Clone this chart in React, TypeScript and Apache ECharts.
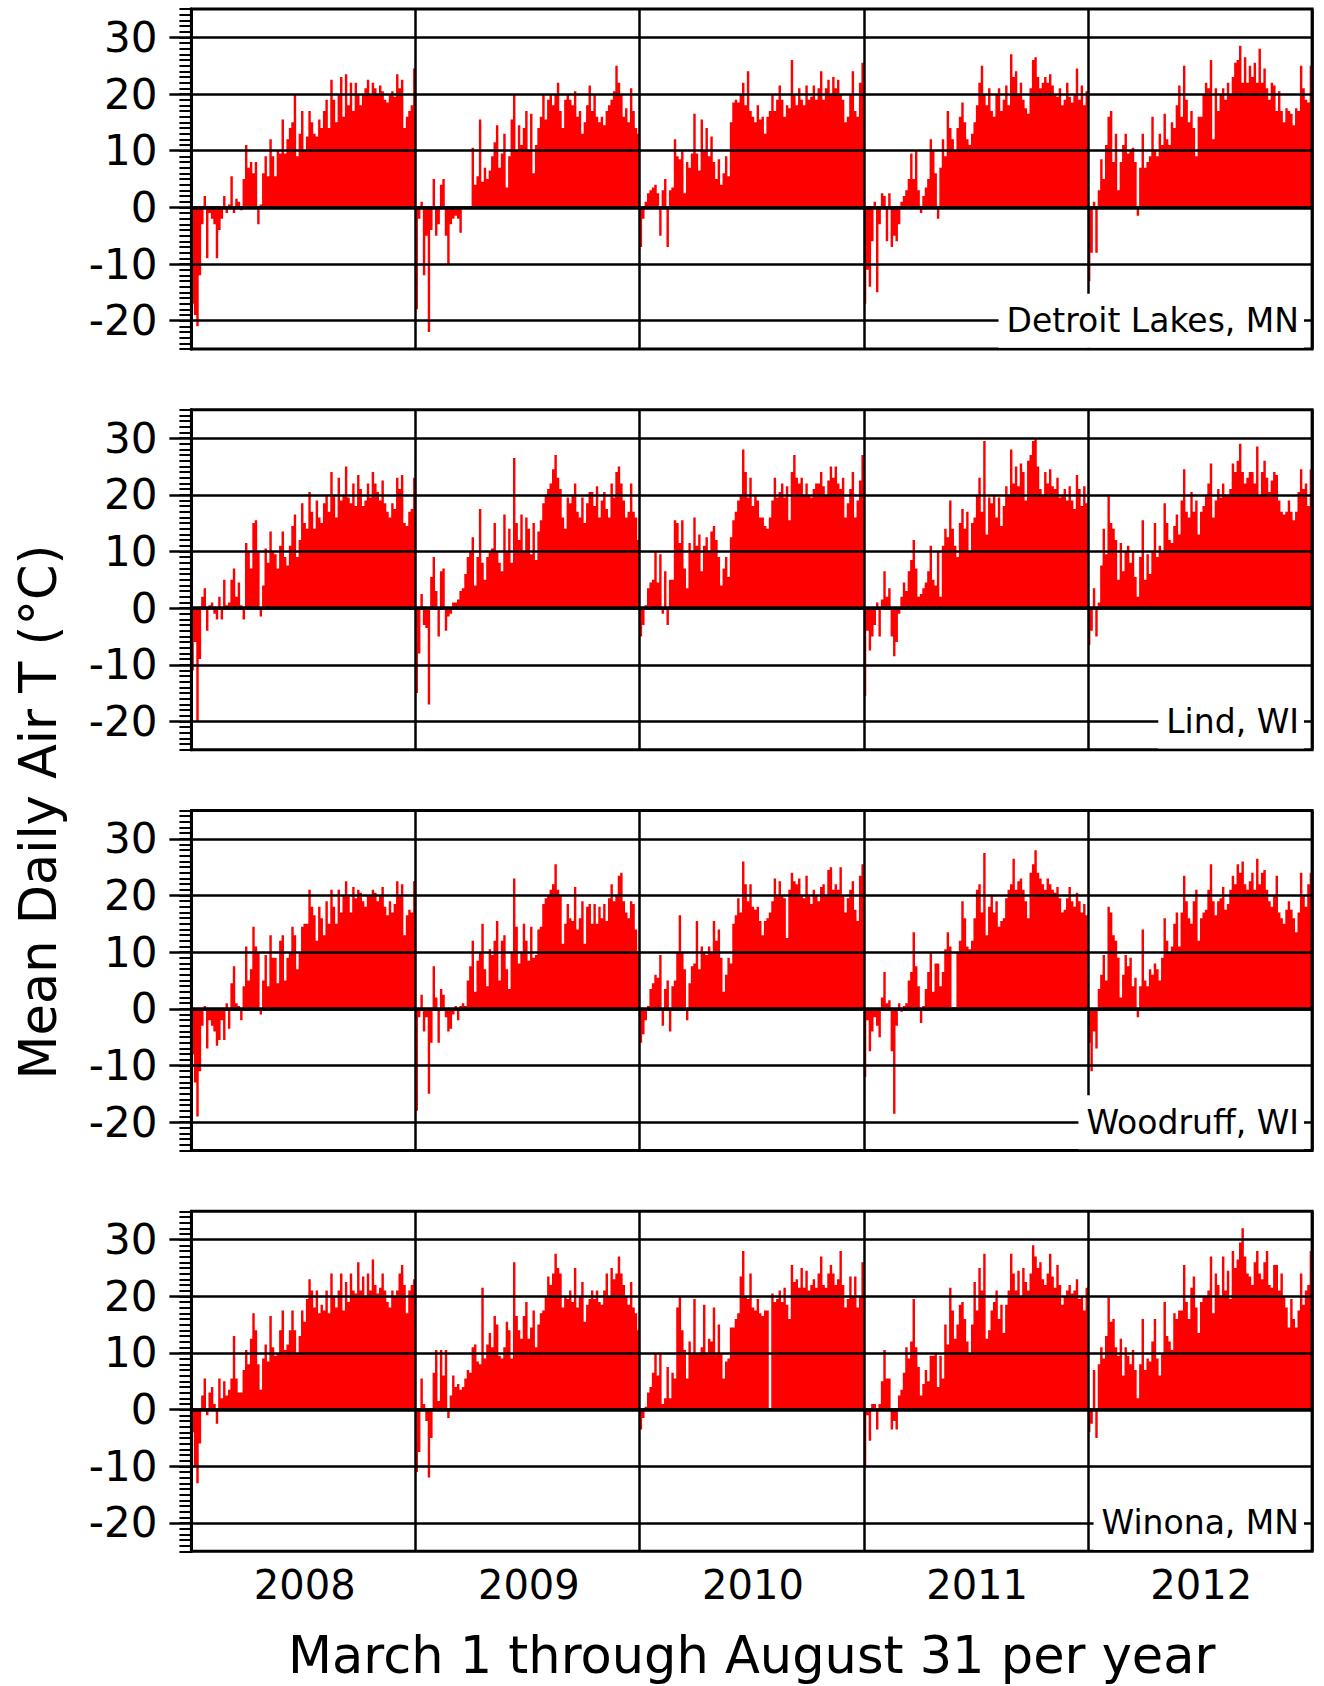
import React, { useEffect, useRef } from "react";
import * as echarts from "echarts";

// ---------------- DATA ----------------
const years = ["2008", "2009", "2010", "2011", "2012"];
const stationNames = ["Detroit Lakes, MN", "Lind, WI", "Woodruff, WI", "Winona, MN"];
const yTickLabels = [-20, -10, 0, 10, 20, 30];
const xTitle = "March 1 through August 31 per year";
const yTitle = "Mean Daily Air T (°C)";

// Two-day mean daily air temperature (°C), March 1 – August 31, 92 values per year
const detroit2008 = [-17,-19,-21,-12,-3,2,-9,-1,-2,-3,-9,-4,-2,2,-1,0.5,5.5,-1,1.5,1,-0.5,5,11,7,8,6,8,-3,0.5,6,9,5.5,12,9,5.5,10,9.5,15.5,9.5,12,14,15,20,9,13,17,10,12.5,17,15,13,12.5,15.5,14,17,19,14,22.5,19,15,20,23,16,23.5,18,22,17,22,20,18,20,21,22.5,20,22,21,20,21.5,20.5,19,18.5,20,20.5,19.5,23.5,21,22.5,14,16,17,18,24.5];
const detroit2009 = [-18,-2,1,-12,-5,-22,-4,5,-5,-3,4,5,-5,-10,-3,-2,-1.5,-2,-4.5,0,0,0,0,10.5,4,5.5,15.5,4.5,7,5,6.5,9,11.5,14.5,7,9.5,13,3.5,9,15.5,20,10,14.5,11,14,17,10,16.5,6,11,14,16,20,15.5,19,20,18,20,22,17,14,19,20,19,18,20.5,16,17,13,15,18,21.5,17,20,16,15,16,14.5,17,18,19,20.5,25,22,20,16,17.5,15,21,17,14,13];
const detroit2010 = [-7,-2,1,2.5,3,3.5,4,2.5,-5,3,5,-7,3,3.5,12,9,8.5,10,2.5,8,7,9.5,16.5,9.5,6.5,15.5,10,14,9,12.5,8,5,8.5,4,6,9,5.5,15,18.5,19,18.5,20,22,18,24,17,16,15,18,15.5,16,13,16,17,20,17,19,21.5,19,16,18,17.5,26,20,18,21,19,18,21.5,19,19.5,21.5,19,21,24,19,21,22.5,20,23,21,22.5,20,19,15,16,20,24,17,16,22,25.5];
const detroit2011 = [-17,-11,-14,-6,1,-15,-3,2.5,2,-6,2.5,-7,-5,-6,-3,1,2,3,5,9.5,5,10,3,-1,2,3.5,5,12,10,6,-2,7,12,9,17,14,12,10,14,16,18.5,15,12,11,13,15,18,22,25,20,18,21,17,16,20,21,17,19,21.5,18,27,23,24,20,22,19,17.5,16.5,21,26,26.5,23,21,22,23,22,23.5,21.5,20,19.5,21,18,19,22,19.5,18.5,20,24.5,19,21.5,18,20.5];
const detroit2012 = [-13,-8,1,-8,3,8.5,5,11,16,17,8,13,3,8,11,13,9.5,10,10.5,8,-1.5,7,13,7,8,9,16,10,9,13,11,16.5,12,11,15,14,18,21.5,16,25,19,15,17,14,9,16,16,20,22,21,26,12,21,17,20,21,19,22,20,23,25.5,26,28.5,22,26.5,22,25,23,25.5,22,28,22,24.5,21,19,22,21.5,17,20.5,17,15,17.5,17,16.5,14.5,17.5,17,25,21,19,18.5,25];

const lind2008 = [-11,-6,-20,-9,2,3.5,-4,0.5,1,-1,-2,2,-2,5,0.5,1,5,7,2,4.5,0.5,-2,11.5,10,7,15,15.5,10,-1.5,4,10.5,8,13.5,10,9.5,7,11,13.5,9,7.5,11,14.5,16.5,9,12,18.5,15,14,20.5,17,14,19,16,15,18.5,20,17,24,20,16,23,19,20,25,19.5,18.5,22,18,23.5,21,18,19,22,19.5,24,22,20.5,19,22.5,18.5,17,16,18.5,17.5,23,21,23.5,15,14.5,17,17.5,23];
const lind2009 = [-15,-8,2.5,-3,-3.5,-17,5.5,9,3,-5,6.5,7,-4,-1.5,-1,1,1,1.5,3,3.5,6,9,10,12.5,4,9,17.5,8,5,9,10,10.5,15,10,8,6.5,16.5,10,14,8,26.5,15,12,16.5,10,16,14,9.5,15,8.5,13.5,15.5,18.5,20,21,22,24.5,27,23,21,16,14,19.5,18.5,20,22,17,16,19.5,15,18.5,20.5,20.5,18,21.5,16,19,20.5,17.5,16,22,19.5,24,25,22,19,16,17,22,17,16,12];
const lind2010 = [-5,-3,0.5,3.5,4.5,5,10,4.5,9.5,-1,6.5,-3,5,5,15.5,15,11.5,15.5,7,3.5,11.5,10,16,11,13,6.5,11,12.5,10,13.5,14.5,12,9,4,7,9,5.5,12.5,15.5,17,19,20,28,24,19.5,23,18,20,19,16,16,14.5,14,16,19,23,19.5,20.5,22,19.5,21.5,15.5,24,27,23,22,23,20,22,20,19.5,21,22,22,24,21.5,20,22.5,25,23,25,22,21,23,16,18.5,21,24,16,19,22.5,27];
const lind2011 = [-15.5,-4,-7.5,-5,-3,1,-5,1.5,6.5,2,3.5,-5,-8.5,-6,-1,2,4.5,3,6.5,8.5,12,7,2,2.5,3.5,4.5,6.5,11,5,4,10,2,11,14,12.5,19,14,11,9,15,17.5,14,17,10,15,16,20,23,17,29.5,13,19.5,18.5,20,16,19.5,14.5,18,21.5,20,28,22,25,21.5,25.5,24,19,26,27,29.5,30,25,21,20,24,22,24.5,21.5,21,23,19.5,20,21,19,21.5,19,17.5,23.5,21,18,21.5,18.5];
const lind2012 = [-6.5,-4,3.5,-5,1,7.5,14,9.5,20,15,14,12,5,11.5,6.5,10,11,8,10,5.5,2,9,15.5,5,9.5,6,10,15,9,11,10,18.5,15,12,11.5,14.5,16.5,13,19,24.5,17,16,20.5,17,19,13,17,18,20,22,25.5,16,19,21,19.5,22,20,20,21,25.5,24,26,29,24,22,23,24,24,22,28.5,20,24,26,23,20.5,22.5,24,23.5,19,17,16.5,17,19,17,15.5,17,20.5,24.5,21,22,18,24.5];

const woodruff2008 = [-8,-13,-19,-11,-3,0.5,-7,-2,-3,-4,-6.5,-5.5,-2,-5.5,1,-3.5,4.5,7.5,1,0.5,-2,4,11,5,7,14.5,11,10,-1,5,9.5,4,13,9,9,4.5,12,13,5,9,10,14.5,13,7,10,14.5,15,15,21,18,16.5,12,18,16,13,19,15,21,18,15,21,17,20,22.5,20,17,21.5,19.5,21,20.5,19,18,20,20,21,20.5,19,20,21.5,18,16.5,19,17,18.5,22.5,20,22,13,16.5,17.5,17,22.5];
const woodruff2009 = [-18,-1.5,2.5,-4,-1.5,-15,-6,7.5,2,-6,3.5,2.5,-1.5,-4,-3.5,-1,0.5,-2,0.5,1,0.5,5,7.5,12,3,8.5,10,15,7,4,10.5,9.5,12,15.5,5,12,13,7,3.5,10,23,14.5,8,10,15,12,8.5,14.5,9,9.5,14,14.5,18.5,19.5,20,21,22,25.5,21,20,11.5,15,18.5,16,15.5,21.5,14,16,19,11.5,18,18.5,15,18.5,15,18,16,18.5,15.5,19.5,22,19,20,23.5,24,19,17,16,19,18.5,14,10];
const woodruff2010 = [-6,-4.5,-2,0.5,3.5,4.5,6,5.5,9.5,-3,3.5,5,-4,4,5,10,16.5,10,7,-2,4.5,7.5,8,15.5,7,11,10,9.5,11,10,15.5,12,14,9,3,6,9,8,15,16.5,19.5,17,26,22,19,22,18,17.5,18,15.5,13,15.5,16,17,19,23,20,22.5,20,19.5,12.5,21,24,22.5,22,23,20,19.5,23.5,20,18.5,21,20,19,21.5,22,20,24.5,25,21,22,21,25,20,17,19.5,21,22.5,17.5,15.5,23.5,25.5];
const woodruff2011 = [-12,-2,-7.5,-4,-1.5,-3,-5,2,6.5,1,1.5,-7.5,-18.5,-3,1,-0.5,0.5,1,5,6.5,13.5,7.5,4,-2.5,0.5,3.5,6.5,10,3,8,8,4,6.5,10.5,13.5,11,0.3,0.3,10,12,19,16,11,10.5,12,16,21,22,17,27.5,13,18,20,17,19,14.5,15.5,16,19.5,21,22,26.5,21,22.5,23,21,19,16,24,25.5,28,24,23,22,21,23,22,21,20.5,21.5,19.5,17,17.5,19.5,21.5,19,18,20.5,19,17,18.5,16.5];
const woodruff2012 = [-6,-11,-4,-7,3.5,6,9.5,5,18,17,13,12,9,2,6,9.5,7.5,9,4,5.5,-1.5,4,14,5,4,7,6,8,7,5,9,16,12,10,11,15,17,11,17,23.5,19,16,15,19,21,12,16,17,17.5,21,25.5,19,16.5,19,19.5,21.5,17.5,18.5,21,23.5,22,25.5,24,26,22,21,22.5,24,21,26.5,22,24,24.5,21,19,18,20,23.5,17,16,15,17.5,19,17.5,16,13.5,17,24,20,18,22,24];

const winona2008 = [-4,-10,-13,-6,2.5,5.5,-1,3,4,1,-2.5,5.5,2,5,2.5,3.5,5.5,13,5.5,3,3,7,10.5,8,12.5,17,14,8,3.5,9,11.5,8.5,16.5,11,9.5,10,14,17.5,10.5,11.5,14,17.5,14,10,13,17.5,15.5,19.5,23,21,18,21,17,18.5,17.5,21,17,24,20,18,21,24,17.5,22.5,19,24,21,20.5,26,21,23.5,20,24,21,26.5,22,20.5,21.5,24,21,19,18,21,20,21,24,25.5,22,17,21,22,23];
const winona2009 = [-11,-7.5,5.5,1,-2,-12,-5,6.5,10.5,1.5,10.5,6,10.5,-1.5,2.5,6,4,4.5,3.5,4,5.5,7,6.5,11,11.5,8.5,8,21.5,9,11.5,13.5,11,16.5,15,9.5,9,11,15.5,14,9,26,16.5,14,12.5,16.5,19,12.5,14.5,17.5,11,15,17,17.5,20,23.5,22,24,27.5,25,24,18,20,19.5,21,19,25,18,20,22.5,15.5,18.5,19.5,21,19.5,21,19,18.5,21,24,20,25,23,24,27,24,22,20,18.5,22.5,18,17,14];
const winona2010 = [-3.5,-1.5,0.5,3,4,6.5,10,6,10,1,2,7.5,2,6.5,5.5,18,20,14,10.5,5.5,12,10,19.5,10,10,11,18.5,10,12.5,12,18,10,15,10,5.5,8.5,9,14.5,14.5,16,17,23.5,28,20,19.5,24,18,17.5,19.5,17,16.5,17.5,17.5,0.3,20.5,19,19.5,21,19,21.5,18.5,16,25.5,22.5,23,21.5,25,21.5,24.5,21,22,23,21.5,24,27,22,21.5,24,25.5,24,22,23,28,22,18,19.5,23.5,20,23.5,18,20,26];
const winona2011 = [-10,-1,-5.5,1,1,-3.5,1,5,10.5,5.5,5.5,-3.5,-2,-3.5,2.5,3.5,6.5,11,9,12,19.5,11,7.5,2.5,4.5,7,5,9.5,9.5,10,4,9.5,5.5,15,11.5,21.5,17.5,12.5,15,18.5,19,16,12,10,15,22.5,17.5,25,21,27.5,12.5,14,17.5,19,21,16,18.5,13.5,18.5,21,27.5,24,21,24.5,20,25,22.5,21,24,29,27,25,26,23,22,24,27.5,23.5,21.5,25.5,22,18.5,20,21,22,20.5,21,23,19.5,20,17.5,21.5];
const winona2012 = [-4,-2.5,7,-5,8,11,9,13,20,15.5,16,11,9.5,12.5,6,11,9.5,8,10.5,7,2,8,16,7,9,8.5,12,16,9,6,10,19,13,12,10.5,17,16,17.5,17.5,25.5,19,16,21.5,23.5,18,13.5,19,20,20,21,27,17,24,22,20,27,21,24.5,19.5,28,25,26.5,29.5,32,27,24,23.5,22,26,28,24,23,26,28,22,21.5,25.5,25.5,21,24,20,18,14.5,19.5,16,14.5,17.5,24,18.5,21,22,28];

const detroitLakes = [...detroit2008, ...detroit2009, ...detroit2010, ...detroit2011, ...detroit2012];
const lind = [...lind2008, ...lind2009, ...lind2010, ...lind2011, ...lind2012];
const woodruff = [...woodruff2008, ...woodruff2009, ...woodruff2010, ...woodruff2011, ...woodruff2012];
const winona = [...winona2008, ...winona2009, ...winona2010, ...winona2011, ...winona2012];
const stationSeries = [detroitLakes, lind, woodruff, winona];

const binsPerYear = detroit2008.length;
const categories = years.flatMap((y) => Array.from({ length: binsPerYear }, (_, i) => `${y}-${i}`));

// ---------------- LAYOUT ----------------
const PAGE_W = 1324;
const PAGE_H = 1686;
const PLOT_LEFT = 191.4;
const PLOT_W = 1120.7;
const PANEL_TOP0 = 9;
const PANEL_STEP = 400.75;
const PANEL_H = 340;
const Y_MIN = -25;
const Y_MAX = 35;
const UNIT = PANEL_H / (Y_MAX - Y_MIN);
const FONT = "DejaVu Sans";

function buildOption() {
  const grid: any[] = [];
  const xAxis: any[] = [];
  const yAxis: any[] = [];
  const series: any[] = [];
  const graphic: any[] = [];
  const tMin = yTickLabels[0];
  const tMax = yTickLabels[yTickLabels.length - 1];
  const tStep = yTickLabels[1] - yTickLabels[0];

  stationSeries.forEach((values, p) => {
    const top = PANEL_TOP0 + PANEL_STEP * p;
    const zeroY = top + Y_MAX * UNIT;
    const gA = grid.length;
    grid.push({
      left: PLOT_LEFT, top, width: PLOT_W, height: PANEL_H,
      show: true, borderColor: "#000", borderWidth: 3,
      backgroundColor: "rgba(0,0,0,0)", z: 10,
      containLabel: false, outerBoundsMode: "none",
    });
    grid.push({
      left: PLOT_LEFT, top: top + (Y_MAX - tMax) * UNIT, width: PLOT_W,
      height: (tMax - tMin) * UNIT, show: false,
      containLabel: false, outerBoundsMode: "none",
    });
    xAxis.push({
      gridIndex: gA, type: "category", data: categories, boundaryGap: true,
      position: "bottom",
      axisLine: { show: false, onZero: false },
      axisTick: { show: false },
      axisLabel: p === stationSeries.length - 1
        ? {
            show: true,
            interval: (i: number) => i % binsPerYear === binsPerYear / 2,
            formatter: (v: string) => String(v).split("-")[0],
            margin: 14, fontSize: 40, fontFamily: FONT, color: "#000",
          }
        : { show: false },
      splitLine: {
        show: true,
        interval: (i: number) => i > 0 && i % binsPerYear === 0,
        lineStyle: { color: "#000", width: 2.5 },
      },
      z: 10,
    });
    xAxis.push({ gridIndex: gA + 1, type: "value", min: 0, max: 1, show: false });
    yAxis.push({
      gridIndex: gA, type: "value", min: Y_MIN, max: Y_MAX, interval: 1,
      axisLine: { show: true, onZero: false, lineStyle: { color: "#000", width: 3 } },
      axisTick: { show: true, inside: false, length: 12, lineStyle: { color: "#000", width: 2 } },
      axisLabel: { show: false },
      splitLine: { show: false },
      z: 10,
    });
    yAxis.push({
      gridIndex: gA + 1, type: "value", min: tMin, max: tMax, interval: tStep,
      axisLine: { show: false, onZero: false },
      axisTick: { show: true, inside: false, length: 22, lineStyle: { color: "#000", width: 2.5 } },
      axisLabel: { show: true, margin: 34, fontSize: 42, fontFamily: FONT, color: "#000" },
      splitLine: { show: true, lineStyle: { color: "#000", width: 2.5 } },
      z: 10,
    });
    series.push({
      type: "bar", xAxisIndex: gA, yAxisIndex: gA, data: values,
      barCategoryGap: "0%", barGap: "0%",
      large: true, largeThreshold: 100,
      itemStyle: { color: "#ff0000" },
      silent: true,
      markLine: {
        silent: true, symbol: ["none", "none"], label: { show: false },
        lineStyle: { color: "#000", width: 3.5, type: "solid" },
        data: [{ yAxis: 0 }],
      },
    });
    graphic.push({
      type: "text", x: 1304, y: zeroY + 20 * UNIT, z: 100,
      style: {
        text: stationNames[p], font: `33px "${FONT}"`, fill: "#000",
        align: "right", verticalAlign: "middle",
        backgroundColor: "#fff", padding: [8, 5, 8, 8], lineHeight: 38,
      },
    });
  });

  graphic.push({
    type: "text", x: PLOT_LEFT + PLOT_W / 2, y: 1655, z: 100,
    style: { text: xTitle, font: `51px "${FONT}"`, fill: "#000", align: "center", verticalAlign: "middle" },
  });
  graphic.push({
    type: "text", x: 38, y: 812, rotation: Math.PI / 2, z: 100,
    style: { text: yTitle, font: `51px "${FONT}"`, fill: "#000", align: "center", verticalAlign: "middle" },
  });

  return {
    animation: false,
    backgroundColor: "#fff",
    textStyle: { fontFamily: FONT },
    grid, xAxis, yAxis, series, graphic,
  };
}

export default function App() {
  const ref = useRef<HTMLDivElement>(null);
  useEffect(() => {
    if (!ref.current) return;
    const chart = echarts.init(ref.current, null, { renderer: "svg" });
    chart.setOption(buildOption() as any);
    return () => chart.dispose();
  }, []);
  return (
    <div
      ref={ref}
      style={{ position: "fixed", left: 0, top: 0, width: PAGE_W, height: PAGE_H, background: "#fff" }}
    />
  );
}
